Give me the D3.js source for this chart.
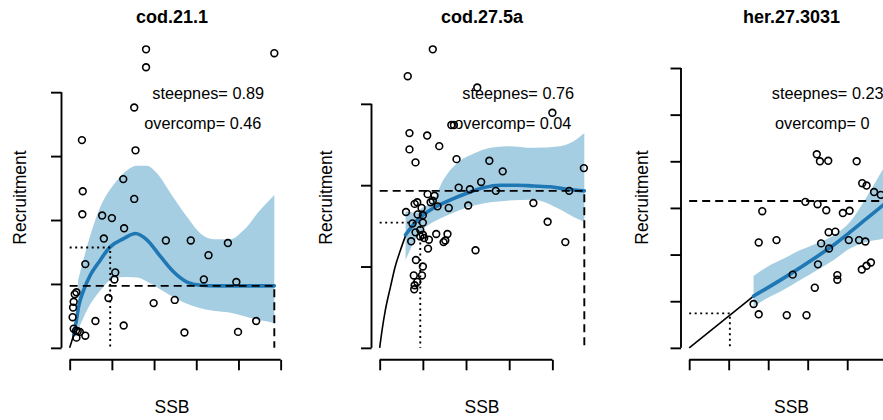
<!DOCTYPE html>
<html><head><meta charset="utf-8">
<script src="https://cdn.jsdelivr.net/npm/d3@7"></script>
<style>
body{margin:0;background:#fff}
text{font-family:"Liberation Sans",Arial,Helvetica,sans-serif;fill:#000}
</style>
</head><body>
<svg id="chart" width="883" height="420"></svg>
<script>
// ---------------- DATA ----------------
const stocks    = ["cod.21.1", "cod.27.5a", "her.27.3031"];
const steepness = ["0.89", "0.76", "0.23"];
const overcomp  = ["0.46", "0.04", "0"];
const xAxisTitle = "SSB";
const yAxisTitle = "Recruitment";
// data extents (unlabelled axes, tick units)
const xMax = [4.85, 4.74, 5.18];
const yMax = [4.67, 3.67, 6.40];
const xTicks = [[0,1,2,3,4,5],[0,1,2,3,4],[0,1,2,3,4,5]];
const yTicks = [[0,1,2,3,4],[0,1,2,3],[0,1,2,3,4,5,6]];

// observed SSB / recruitment
const cod211_obs = [[1.81,4.67],[1.81,4.39],[4.85,4.61],[1.53,3.76],[0.29,3.25],[1.56,3.09],[1.27,2.64],[0.31,2.45],[1.53,2.33],[0.30,2.09],[0.77,2.07],[1.0,2.03],[1.29,1.87],[0.81,1.71],[2.28,1.68],[2.87,1.68],[3.75,1.64],[3.29,1.45],[0.37,1.31],[1.08,1.18],[1.06,1.07],[3.18,1.07],[3.95,1.03],[0.16,0.87],[0.12,0.84],[0.095,0.72],[0.92,0.78],[1.99,0.70],[2.49,0.75],[0.08,0.63],[0.07,0.48],[0.61,0.42],[1.28,0.35],[4.42,0.42],[2.72,0.24],[3.99,0.25],[0.095,0.30],[0.15,0.27],[0.19,0.26],[0.37,0.19],[0.16,0.16],[0.24,0.25]];
const cod275a_obs = [[1.23,3.67],[0.65,3.34],[2.26,3.20],[4.0,2.89],[1.66,2.74],[1.72,2.74],[0.69,2.64],[1.10,2.61],[1.38,2.48],[0.69,2.44],[1.78,2.32],[0.83,2.28],[2.54,2.30],[2.85,2.17],[4.73,2.21],[2.35,2.04],[1.83,1.97],[2.09,1.95],[2.69,1.93],[4.39,1.93],[1.11,1.89],[1.27,1.87],[1.23,1.81],[1.18,1.79],[0.87,1.79],[0.81,1.77],[3.56,1.78],[1.34,1.74],[1.60,1.72],[2.05,1.75],[0.61,1.67],[0.97,1.72],[0.88,1.64],[1.0,1.63],[0.76,1.53],[1.0,1.54],[3.89,1.55],[0.73,1.31],[0.83,1.42],[0.94,1.45],[1.0,1.39],[1.03,1.35],[0.94,1.37],[1.14,1.33],[1.31,1.40],[1.57,1.40],[1.52,1.32],[1.48,1.30],[1.12,1.22],[2.22,1.20],[4.30,1.30],[0.84,1.08],[1.0,1.0],[0.79,0.89],[0.98,0.89],[0.87,0.81],[0.81,0.77],[0.80,0.72]];
const her273031_obs = [[3.23,4.15],[3.31,4.0],[3.52,4.01],[4.24,4.0],[4.38,3.53],[4.49,3.48],[4.68,3.34],[4.85,3.28],[2.94,3.13],[3.25,3.08],[3.47,2.95],[3.89,2.89],[4.06,2.94],[1.85,2.93],[3.53,2.48],[3.70,2.49],[1.76,2.26],[2.21,2.31],[3.34,2.24],[3.54,2.13],[4.04,2.31],[4.30,2.31],[4.46,2.28],[3.26,1.79],[2.62,1.57],[3.75,1.56],[3.75,1.46],[4.37,1.68],[4.49,1.76],[4.60,1.83],[3.18,1.29],[1.63,0.94],[1.76,0.72],[2.47,0.70],[2.97,0.70]];

// fitted smooth (blue) : x, y
const cod211_fitX = [0.095,0.135,0.21,0.33,0.49,0.69,0.96,1.28,1.56,1.83,2.15,2.46,2.78,3.10,3.49,4.2,4.85];
const cod211_fitY = [0.20,0.33,0.64,0.90,1.14,1.34,1.58,1.71,1.79,1.69,1.43,1.19,1.03,0.98,0.97,0.97,0.97];
const cod275a_fitX = [0.6,0.87,1.25,1.64,2.02,2.41,2.79,3.18,3.56,3.95,4.34,4.74];
const cod275a_fitY = [1.39,1.57,1.72,1.82,1.90,1.97,2.00,2.00,1.99,1.98,1.95,1.93];
const her273031_fitX = [1.63,2.38,3.22,3.65,4.07,4.49,4.91,5.18];
const her273031_fitY = [1.11,1.49,1.95,2.20,2.48,2.77,3.06,3.25];

// confidence band (light blue): x, lower, upper
const cod211_bandX  = [0.2,0.41,0.73,1.04,1.36,1.60,1.83,2.07,2.39,2.78,3.10,3.41,3.81,4.12,4.52,4.85];
const cod211_bandLo = [0.28,0.59,0.90,1.09,1.11,1.10,1.04,0.95,0.82,0.69,0.62,0.58,0.55,0.50,0.43,0.39];
const cod211_bandHi = [1.06,1.58,2.21,2.55,2.78,2.85,2.85,2.73,2.42,2.05,1.79,1.70,1.70,1.84,2.16,2.39];
const cod275a_bandX  = [0.6,0.87,0.94,1.25,1.48,1.79,2.18,2.56,2.95,3.56,4.18,4.49,4.74];
const cod275a_bandLo = [1.08,1.37,1.42,1.55,1.61,1.68,1.75,1.79,1.81,1.82,1.70,1.61,1.55];
const cod275a_bandHi = [1.68,1.66,1.70,1.82,2.07,2.27,2.39,2.46,2.48,2.46,2.48,2.54,2.64];
const her273031_bandX  = [1.63,1.96,2.38,2.80,3.22,3.65,4.07,4.49,4.74,4.91,5.18];
const her273031_bandLo = [0.89,1.06,1.24,1.45,1.66,1.88,2.13,2.27,2.31,2.34,2.40];
const her273031_bandHi = [1.54,1.73,1.91,2.09,2.24,2.41,2.70,3.23,3.59,3.84,4.20];

// stock-recruit curve (black) : x, y
const cod211_srX = [0,0.095];
const cod211_srY = [0,0.20];
const cod275a_srX = [0,0.056,0.13,0.25,0.36,0.48,0.6];
const cod275a_srY = [0,0.22,0.46,0.75,1.0,1.2,1.38];
const her273031_srX = [0,1.63];
const her273031_srY = [0,1.11];

// reference points: dotted (x, y), dashed level y, dashed x (max SSB)
const dottedX = [0.96, 0.94, 1.03];
const dottedY = [1.57, 1.54, 0.74];
const dashedY = [0.97, 1.93, 3.15];
const dashedX = [4.85, 4.74, 5.18];

// --------------- DRAWING ---------------
const panels = [
  {obs:cod211_obs, fx:cod211_fitX, fy:cod211_fitY, bx:cod211_bandX, blo:cod211_bandLo, bhi:cod211_bandHi, sx:cod211_srX, sy:cod211_srY},
  {obs:cod275a_obs, fx:cod275a_fitX, fy:cod275a_fitY, bx:cod275a_bandX, blo:cod275a_bandLo, bhi:cod275a_bandHi, sx:cod275a_srX, sy:cod275a_srY},
  {obs:her273031_obs, fx:her273031_fitX, fy:her273031_fitY, bx:her273031_bandX, blo:her273031_bandLo, bhi:her273031_bandHi, sx:her273031_srX, sy:her273031_srY}
];

const svg = d3.select("#chart");
svg.append("rect").attr("width",883).attr("height",420).attr("fill","#fff");

const panelLeft = [61.5, 371.5, 681];
const panelW = 221;
const plotTop = 37.4, plotBottom = 359.8;
const ylabX = [25.5, 332, 647.5];
const tickLen = 10.5;
const axisW = 1.9;

panels.forEach((p, i) => {
  const L = panelLeft[i];
  const x = d3.scaleLinear().domain([-0.04*xMax[i], 1.04*xMax[i]]).range([L, L+panelW]);
  const y = d3.scaleLinear().domain([-0.04*yMax[i], 1.04*yMax[i]]).range([plotBottom, plotTop]);
  const g = svg.append("g");

  // band
  const band = p.bx.map((v,k)=>({x:v, lo:p.blo[k], hi:p.bhi[k]}));
  g.append("path").datum(band)
    .attr("d", d3.area().x(d=>x(d.x)).y0(d=>y(d.lo)).y1(d=>y(d.hi)).curve(d3.curveMonotoneX))
    .attr("fill","#a6cee3").attr("stroke","none");

  // black SR curve
  const sr = p.sx.map((v,k)=>[v,p.sy[k]]);
  g.append("path").datum(sr)
    .attr("d", d3.line().x(d=>x(d[0])).y(d=>y(d[1])).curve(d3.curveMonotoneX))
    .attr("fill","none").attr("stroke","#000").attr("stroke-width",1.6);

  // blue fit
  const fit = p.fx.map((v,k)=>[v,p.fy[k]]);
  g.append("path").datum(fit)
    .attr("d", d3.line().x(d=>x(d[0])).y(d=>y(d[1])).curve(d3.curveMonotoneX))
    .attr("fill","none").attr("stroke","#1f78b4").attr("stroke-width",3.6).attr("stroke-linecap","round");

  // dotted reference
  g.append("path")
    .attr("d", d3.line()([[x(0),y(dottedY[i])],[x(dottedX[i]),y(dottedY[i])],[x(dottedX[i]),y(0)]]))
    .attr("fill","none").attr("stroke","#000").attr("stroke-width",1.9).attr("stroke-dasharray","2,3.5");
  // dashed reference
  g.append("path")
    .attr("d", d3.line()([[x(0),y(dashedY[i])],[x(dashedX[i]),y(dashedY[i])],[x(dashedX[i]),y(0)]]))
    .attr("fill","none").attr("stroke","#000").attr("stroke-width",1.9).attr("stroke-dasharray","8,5");

  // points
  g.selectAll("circle.pt").data(p.obs).join("circle")
    .attr("cx", d=>x(d[0])).attr("cy", d=>y(d[1])).attr("r",3.4)
    .attr("fill","none").attr("stroke","#000").attr("stroke-width",1.6);

  // axes
  const ya = g.append("g").attr("transform",`translate(${L},0)`)
    .call(d3.axisLeft(y).tickValues(yTicks[i]).tickFormat("").tickSize(tickLen).tickSizeOuter(0));
  ya.select(".domain").attr("d", `M0,${y(yTicks[i][0])}V${y(yTicks[i][yTicks[i].length-1])}`);
  const xa = g.append("g").attr("transform",`translate(0,${plotBottom})`)
    .call(d3.axisBottom(x).tickValues(xTicks[i]).tickFormat("").tickSize(tickLen).tickSizeOuter(0));
  xa.select(".domain").attr("d", `M${x(xTicks[i][0])},0H${x(xTicks[i][xTicks[i].length-1])}`);
  [ya, xa].forEach(a => {
    a.selectAll("path,line").attr("stroke","#000").attr("stroke-width",axisW);
  });

  // texts
  const cx = L + panelW/2;
  g.append("text").attr("x",cx).attr("y",23).attr("text-anchor","middle")
    .attr("font-size","18px").attr("font-weight","bold").text(stocks[i]);
  g.append("text").attr("x",cx).attr("y",413).attr("text-anchor","middle")
    .attr("font-size","17.5px").text(xAxisTitle);
  g.append("text").attr("transform",`translate(${ylabX[i]},197.5) rotate(-90)`)
    .attr("text-anchor","middle").attr("font-size","17.5px").text(yAxisTitle);
  g.append("text").attr("x",L+146.7).attr("y",99.3).attr("text-anchor","middle")
    .attr("font-size","16.3px").text("steepnes= " + steepness[i]);
  g.append("text").attr("x",L+141.3).attr("y",129).attr("text-anchor","middle")
    .attr("font-size","16.3px").text("overcomp= " + overcomp[i]);
});
</script>
</body></html>
